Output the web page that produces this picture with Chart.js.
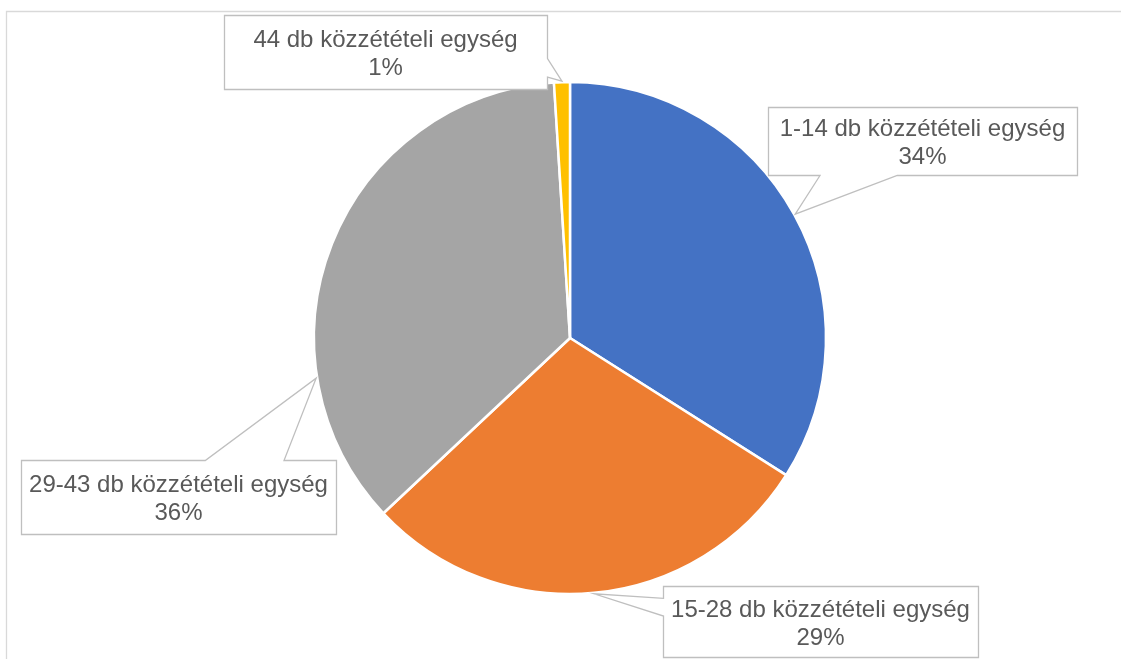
<!DOCTYPE html>
<html>
<head>
<meta charset="utf-8">
<script src="https://cdn.jsdelivr.net/npm/chart.js@4.4.1/dist/chart.umd.min.js"></script>
<style>
html,body{margin:0;padding:0;background:#fff;}
#wrap{width:1121px;height:659px;position:relative;}
</style>
</head>
<body>
<div id="wrap"><canvas id="c" width="1121" height="659"></canvas></div>
<script>
// ---- data ----
const categories = [
  "1-14 db közzétételi egység",
  "15-28 db közzétételi egység",
  "29-43 db közzétételi egység",
  "44 db közzétételi egység"
];
const values = [34, 29, 36, 1];
const colors = ["#4472C4", "#ED7D31", "#A5A5A5", "#FFC000"];

// ---- label layout (relative to pie centre) ----
const labelOffsetX = [352.5, 250.5, -391.5, -184.5];
const labelOffsetY = [-197.5, 283.5, 159, -286];
const labelWidth = [309, 315, 315, 323];
const labelHeight = [68, 71, 74, 74];
const tipFraction = [0.5, 0.5, 0.264, 0.5];

const total = values.reduce((a, b) => a + b, 0);

const framePlugin = {
  id: 'frame',
  beforeDraw(chart) {
    const ctx = chart.ctx;
    ctx.save();
    ctx.fillStyle = '#fff';
    ctx.fillRect(0, 0, chart.width, chart.height);
    ctx.strokeStyle = '#D9D9D9';
    ctx.lineWidth = 1.3;
    ctx.beginPath();
    ctx.moveTo(6.5, chart.height);
    ctx.lineTo(6.5, 11.5);
    ctx.lineTo(chart.width, 11.5);
    ctx.stroke();
    ctx.restore();
  }
};

const calloutPlugin = {
  id: 'callouts',
  afterDraw(chart) {
    const ctx = chart.ctx;
    const meta = chart.getDatasetMeta(0);
    ctx.save();
    meta.data.forEach((arc, i) => {
      const p = arc.getProps(['x', 'y', 'startAngle', 'endAngle', 'outerRadius'], true);
      const ang = p.startAngle + (p.endAngle - p.startAngle) * tipFraction[i];
      const r = p.outerRadius + 1;
      const tx = p.x + Math.cos(ang) * r;
      const ty = p.y + Math.sin(ang) * r;
      const cx = p.x + labelOffsetX[i];
      const cy = p.y + labelOffsetY[i];
      const w = labelWidth[i], h = labelHeight[i];
      const l = Math.round(cx - w / 2) + 0.5, t = Math.round(cy - h / 2) + 0.5;
      const rr = l + w, b = t + h;
      const nx = (tx - cx) / (w / 2), ny = (ty - cy) / (h / 2);
      let edge;
      if (Math.abs(ny) > Math.abs(nx)) edge = ny < 0 ? 'top' : 'bottom';
      else edge = nx < 0 ? 'left' : 'right';
      const pts = [];
      pts.push([l, t]);
      if (edge === 'top') {
        const f = tx < cx ? [2/12, 5/12] : [7/12, 10/12];
        pts.push([l + w * f[0], t], [tx, ty], [l + w * f[1], t]);
      }
      pts.push([rr, t]);
      if (edge === 'right') {
        const f = ty < cy ? [2/12, 5/12] : [7/12, 10/12];
        pts.push([rr, t + h * f[0]], [tx, ty], [rr, t + h * f[1]]);
      }
      pts.push([rr, b]);
      if (edge === 'bottom') {
        const f = tx < cx ? [2/12, 5/12] : [7/12, 10/12];
        pts.push([l + w * f[1], b], [tx, ty], [l + w * f[0], b]);
      }
      pts.push([l, b]);
      if (edge === 'left') {
        const f = ty < cy ? [2/12, 5/12] : [7/12, 10/12];
        pts.push([l, t + h * f[1]], [tx, ty], [l, t + h * f[0]]);
      }
      ctx.beginPath();
      pts.forEach((pt, k) => k ? ctx.lineTo(pt[0], pt[1]) : ctx.moveTo(pt[0], pt[1]));
      ctx.closePath();
      ctx.fillStyle = '#fff';
      ctx.fill();
      ctx.strokeStyle = '#BFBFBF';
      ctx.lineWidth = 1.3;
      ctx.lineJoin = 'miter';
      ctx.stroke();

      ctx.fillStyle = '#595959';
      ctx.font = '24px "Liberation Sans", Arial, sans-serif';
      ctx.textAlign = 'center';
      ctx.textBaseline = 'alphabetic';
      const pct = Math.round(values[i] / total * 100) + '%';
      ctx.fillText(categories[i], cx, cy - 5);
      ctx.fillText(pct, cx, cy + 23);
    });
    ctx.restore();
  }
};

new Chart(document.getElementById('c'), {
  type: 'pie',
  data: {
    labels: categories,
    datasets: [{
      data: values,
      backgroundColor: colors,
      borderColor: '#ffffff',
      borderWidth: 2.5,
      hoverOffset: 0
    }]
  },
  options: {
    responsive: false,
    animation: false,
    radius: 256,
    layout: { padding: { left: 314, right: 295, top: 82, bottom: 65 } },
    plugins: {
      legend: { display: false },
      tooltip: { enabled: false },
      title: { display: false }
    }
  },
  plugins: [framePlugin, calloutPlugin]
});
</script>
</body>
</html>
